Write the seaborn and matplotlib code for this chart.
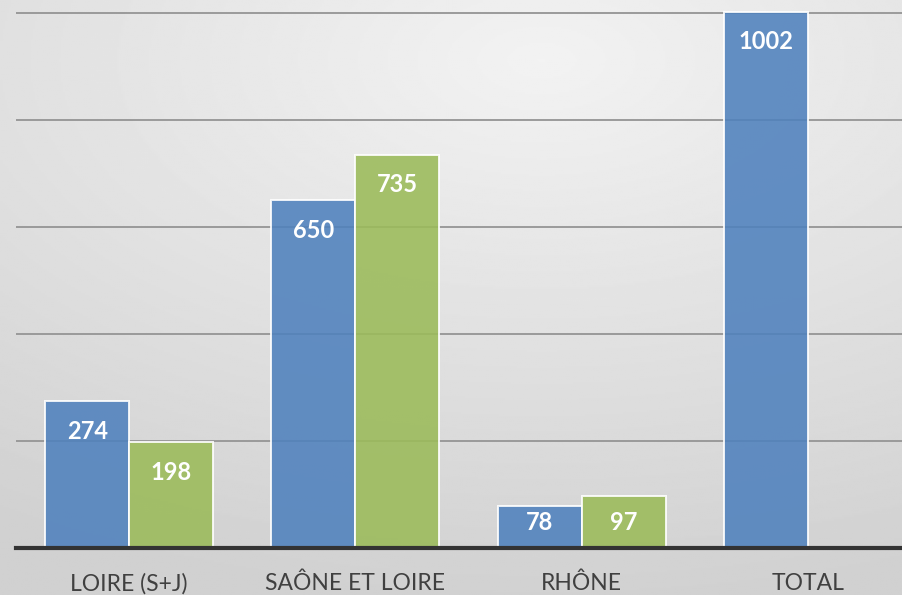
import numpy as np
import pandas as pd
import matplotlib
matplotlib.use("Agg")
import matplotlib.pyplot as plt
import seaborn as sns

# data
categories = ["LOIRE (S+J)", "SAÔNE ET LOIRE", "RHÔNE", "TOTAL"]
series_names = ["A", "B"]
values_a = [274, 650, 78, 1002]
values_b = [198, 735, 97, np.nan]

df = pd.DataFrame({
    "cat": categories * 2,
    "serie": [series_names[0]] * 4 + [series_names[1]] * 4,
    "value": values_a + values_b,
})

sns.set_theme(style="white")
plt.rcParams["font.family"] = ["Lato", "DejaVu Sans"]

fig = plt.figure(figsize=(9.03, 5.95), dpi=100)

# soft radial grey gradient behind everything
bg = fig.add_axes([0, 0, 1, 1], zorder=0)
yy, xx = np.mgrid[0:1:300j, 0:1:450j]
r = np.sqrt(((xx - 0.6) / 1.1) ** 2 + ((yy - 0.1) / 0.9) ** 2)
shade = 0.95 - 0.13 * np.clip(r, 0, 1)
bg.imshow(shade, cmap="gray", vmin=0, vmax=1, aspect="auto", extent=[0, 1, 0, 1], origin="upper")
bg.axis("off")

ax = fig.add_axes([16 / 903, 47 / 595, 905 / 903, 548 / 595], zorder=1)
ax.set_facecolor("none")

sns.barplot(data=df, x="cat", y="value", hue="serie", order=categories,
            palette=["#4f81bd", "#9bbb59"], saturation=1, width=0.742, dodge=True,
            alpha=0.88, edgecolor="white", linewidth=1.4, legend=False, ax=ax)

ax.set_xlim(-0.5, 3.5)
ax.set_ylim(0, 1024)
ax.set_yticks([200, 400, 600, 800, 1000])
ax.yaxis.grid(True, color="#9a9a9a", linewidth=1.4)
ax.set_axisbelow(True)
ax.tick_params(axis="y", left=False, labelleft=False)
ax.tick_params(axis="x", bottom=False, pad=12, labelsize=16.5, labelcolor="#404040")
ax.set_xlabel("")
ax.set_ylabel("")
for side in ["top", "right", "left"]:
    ax.spines[side].set_visible(False)
ax.spines["bottom"].set_color("#333333")
ax.spines["bottom"].set_linewidth(3)
ax.spines["bottom"].set_zorder(5)

# value labels inside the top of each bar (kept above the baseline for short bars)
for container, vals in zip(ax.containers, [values_a, values_b]):
    for patch, v in zip(container.patches, vals):
        if np.isnan(v):
            continue
        ax.text(patch.get_x() + patch.get_width() / 2, max(v - 56, 48), f"{int(v)}",
                ha="center", va="center", color="white",
                fontsize=17, fontweight="bold")

fig.savefig("out.png", dpi=100)
